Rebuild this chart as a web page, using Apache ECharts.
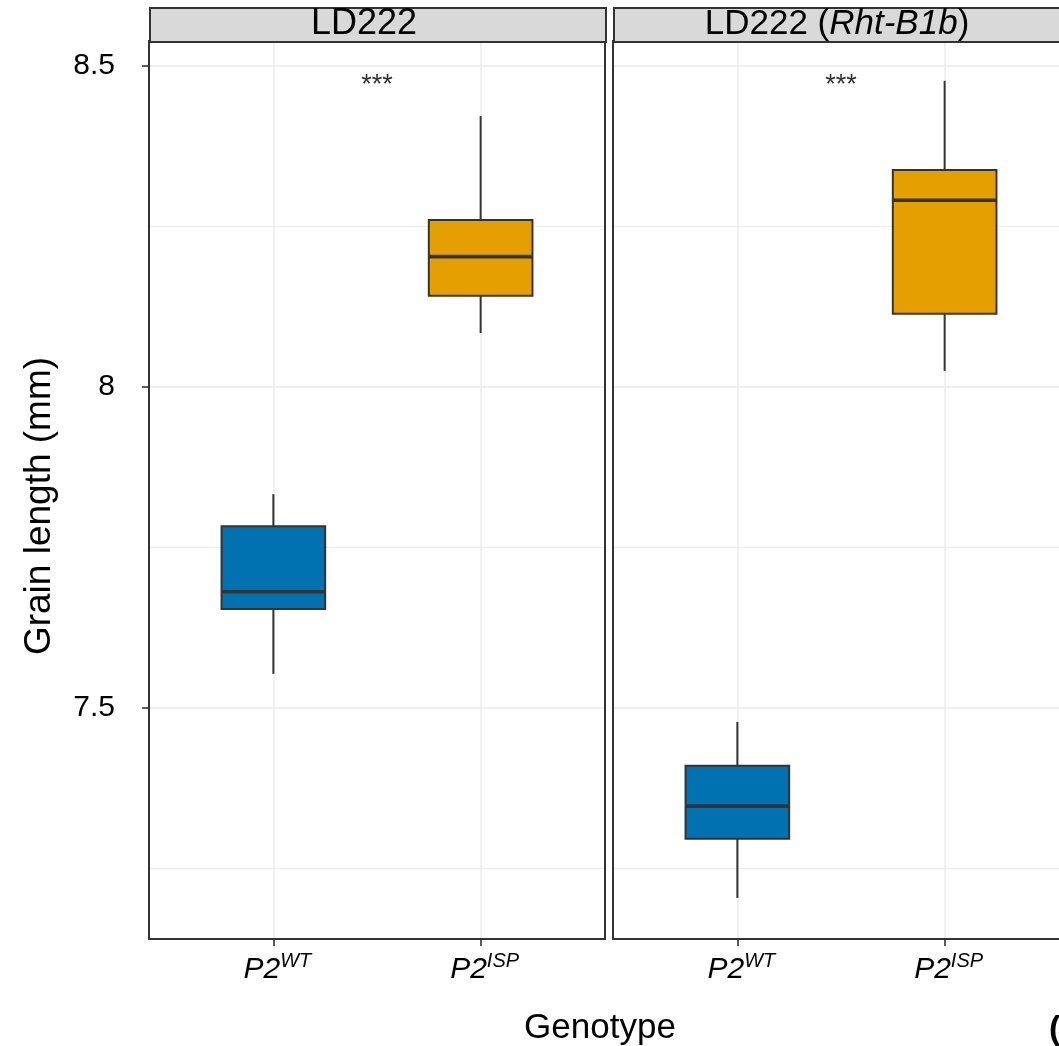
<!DOCTYPE html>
<html><head><meta charset="utf-8">
<script src="https://cdn.jsdelivr.net/npm/echarts@6/dist/echarts.min.js"></script>
<style>html,body{margin:0;padding:0;background:#fff}#c{width:1059px;height:1046px}</style>
</head><body><div id="c"></div>
<script>
// ---- data ----
const panels = ['LD222', 'LD222 (Rht-B1b)'];
const categories = ['P2', 'P2'];
const superscripts = ['WT', 'ISP'];
// [low whisker, Q1, median, Q3, high whisker]
const ld222WT  = [7.553, 7.654, 7.681, 7.783, 7.833];
const ld222ISP = [8.084, 8.142, 8.203, 8.260, 8.422];
const rhtWT    = [7.204, 7.296, 7.347, 7.410, 7.478];
const rhtISP   = [8.025, 8.114, 8.291, 8.338, 8.477];
const signifLabels = ['***', '***'];
const signifY = 8.47;
const yTicks = [7.5, 8, 8.5];
const yMinor = [7.25, 7.75, 8.25];
const yMin = 7.14, yMax = 8.539;
const fillColors = ['#0072B2', '#E69F00'];

const FONT = '"Liberation Sans", Arial, Helvetica, sans-serif';
const panelData = [[ld222WT, ld222ISP], [rhtWT, rhtISP]];
const gridLefts = [149, 613];
const PW = 456, TOP = 41, PH = 898;

const chart = echarts.init(document.getElementById('c'), null, {renderer: 'canvas'});

function renderBox(params, api) {
  const x = api.value(0);
  const lo = api.coord([x, api.value(1)]);
  const q1 = api.coord([x, api.value(2)]);
  const med = api.coord([x, api.value(3)]);
  const q3 = api.coord([x, api.value(4)]);
  const hi = api.coord([x, api.value(5)]);
  const w = api.size([0.5, 0])[0];
  const color = fillColors[api.value(6)];
  const st = {stroke: '#333333', lineWidth: 2};
  return {type: 'group', children: [
    {type: 'line', shape: {x1: lo[0], y1: lo[1], x2: q1[0], y2: q1[1]}, style: st},
    {type: 'line', shape: {x1: q3[0], y1: q3[1], x2: hi[0], y2: hi[1]}, style: st},
    {type: 'rect', shape: {x: q1[0] - w / 2, y: q3[1], width: w, height: q1[1] - q3[1]},
      style: {fill: color, stroke: '#333333', lineWidth: 2}},
    {type: 'line', shape: {x1: med[0] - w / 2, y1: med[1], x2: med[0] + w / 2, y2: med[1]},
      style: {stroke: '#333333', lineWidth: 3.6}}
  ]};
}

const grids = [], xAxes = [], yAxes = [], series = [], graphics = [];
panels.forEach((p, i) => {
  grids.push({left: gridLefts[i], top: TOP, width: PW, height: PH, show: true,
    outerBoundsMode: 'none', containLabel: false,
    borderColor: '#333333', borderWidth: 2, backgroundColor: 'transparent', z: 5});
  xAxes.push({type: 'value', gridIndex: i, min: 0.4, max: 2.6,
    axisLine: {show: false},
    axisTick: {show: true, customValues: [1, 2], length: 7, lineStyle: {color: '#333333', width: 1.6}},
    axisLabel: {show: true, customValues: [1, 2], margin: 10,
      formatter: v => '{a|' + categories[Math.round(v) - 1] + '}{b|' + superscripts[Math.round(v) - 1] + '}',
      rich: {
        a: {fontFamily: FONT, fontSize: 30, fontStyle: 'italic', color: '#000', lineHeight: 36, verticalAlign: 'bottom', padding: [0, 0, 0, 8]},
        b: {fontFamily: FONT, fontSize: 20, fontStyle: 'italic', color: '#000', lineHeight: 36, verticalAlign: 'top', padding: [2, 0, 0, 0]}
      }},
    splitLine: {show: true, lineStyle: {color: '#EBEBEB', width: 1.5}}
  });
  yAxes.push({type: 'value', gridIndex: i, min: yMin, max: yMax,
    axisLine: {show: false},
    axisTick: {show: i === 0, customValues: yTicks, length: 7, lineStyle: {color: '#333333', width: 1.6}},
    axisLabel: {show: i === 0, customValues: yTicks, margin: 34, fontFamily: FONT, fontSize: 30, color: '#000'},
    splitLine: {show: true, lineStyle: {color: '#EBEBEB', width: 1.5}}
  });
  yAxes.push({type: 'value', gridIndex: i, min: yMin, max: yMax, position: 'left',
    axisLine: {show: false},
    axisTick: {show: false, customValues: yMinor},
    axisLabel: {show: false, customValues: yMinor},
    splitLine: {show: true, lineStyle: {color: '#EBEBEB', width: 0.9}}
  });
  series.push({type: 'custom', xAxisIndex: i, yAxisIndex: 2 * i, renderItem: renderBox, z: 3,
    data: panelData[i].map((d, k) => [k + 1].concat(d).concat([k]))});
  series.push({type: 'scatter', xAxisIndex: i, yAxisIndex: 2 * i, symbolSize: 0, z: 4,
    data: [[1.5, signifY]],
    label: {show: true, position: 'inside', formatter: signifLabels[i], fontFamily: FONT, fontSize: 27, color: '#000'}});
  // strip
  graphics.push({type: 'rect', left: gridLefts[i], top: 7, shape: {width: PW, height: 34},
    style: {fill: '#D9D9D9', stroke: '#333333', lineWidth: 2}, z: 10});
});

graphics.push({type: 'text', x: 364, y: 24, z: 11,
  style: {text: panels[0], font: '36px ' + FONT, fill: '#000', textAlign: 'center', textVerticalAlign: 'middle'}});
graphics.push({type: 'text', x: 837, y: 24, z: 11,
  style: {text: '{n|LD222 (}{i|Rht-B1b}{n|)}', textAlign: 'center', textVerticalAlign: 'middle',
    rich: {n: {fontFamily: FONT, fontSize: 35, fill: '#000'}, i: {fontFamily: FONT, fontSize: 35, fontStyle: 'italic', fill: '#000'}}}});
graphics.push({type: 'text', x: 40, y: 506, rotation: Math.PI / 2, z: 11,
  style: {text: 'Grain length (mm)', font: '37px ' + FONT, fill: '#000', textAlign: 'center', textVerticalAlign: 'middle'}});
graphics.push({type: 'text', x: 600, y: 1028, z: 11,
  style: {text: 'Genotype', font: '35px ' + FONT, fill: '#000', textAlign: 'center', textVerticalAlign: 'middle'}});
graphics.push({type: 'text', x: 1049, y: 1030, z: 11,
  style: {text: '(', font: 'bold 34px ' + FONT, fill: '#000', textAlign: 'left', textVerticalAlign: 'middle'}});

chart.setOption({
  animation: false,
  backgroundColor: '#ffffff',
  grid: grids, xAxis: xAxes, yAxis: yAxes, series: series, graphic: graphics
});
</script></body></html>
